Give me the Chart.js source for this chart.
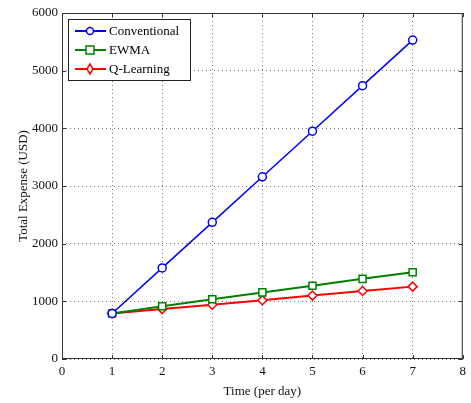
<!DOCTYPE html>
<html>
<head>
<meta charset="utf-8">
<script src="https://cdn.jsdelivr.net/npm/chart.js@4"></script>
<style>
  html, body { margin: 0; padding: 0; background: #fff; }
  #wrap { width: 471px; height: 403px; position: relative; }
</style>
</head>
<body>
<div id="wrap"><canvas id="chart"></canvas></div>
<script>
// data
const days = [1, 2, 3, 4, 5, 6, 7];
const conventional = [790, 1580, 2370, 3160, 3950, 4740, 5530];
const ewma = [790, 915, 1035, 1155, 1270, 1390, 1505];
const qLearning = [790, 865, 940, 1020, 1100, 1180, 1255];
const xTicks = [0, 1, 2, 3, 4, 5, 6, 7, 8];
const yTicks = [0, 1000, 2000, 3000, 4000, 5000, 6000];

const FONT = 'Liberation Serif';

function pts(arr) {
    return days.map((d, i) => ({ x: d, y: arr[i] }));
}

// box round the axes, inward tick marks and a legend inside the plot
const matlabBox = {
    id: 'matlabBox',
    afterDraw(chart) {
        const { ctx, chartArea: a, scales } = chart;
        ctx.save();
        ctx.strokeStyle = '#333';
        ctx.lineWidth = 1;
        ctx.strokeRect(a.left + 0.5, a.top + 0.5, a.right - a.left - 1, a.bottom - a.top - 1);
        ctx.beginPath();
        xTicks.forEach(v => {
            const x = Math.round(scales.x.getPixelForValue(v)) + 0.5;
            ctx.moveTo(x, a.bottom); ctx.lineTo(x, a.bottom - 4);
            ctx.moveTo(x, a.top); ctx.lineTo(x, a.top + 4);
        });
        yTicks.forEach(v => {
            const y = Math.round(scales.y.getPixelForValue(v)) + 0.5;
            ctx.moveTo(a.left, y); ctx.lineTo(a.left + 4, y);
            ctx.moveTo(a.right, y); ctx.lineTo(a.right - 4, y);
        });
        ctx.stroke();

        // legend
        const lx = a.left + 6, ly = a.top + 6, lw = 122, lh = 61;
        ctx.fillStyle = '#fff';
        ctx.fillRect(lx, ly, lw, lh);
        ctx.strokeStyle = '#222';
        ctx.strokeRect(lx + 0.5, ly + 0.5, lw, lh);
        ctx.font = '13px "' + FONT + '"';
        ctx.textBaseline = 'middle';
        chart.data.datasets.forEach((ds, i) => {
            const y = ly + 12 + i * 19;
            ctx.strokeStyle = ds.borderColor;
            ctx.lineWidth = 2;
            ctx.beginPath();
            ctx.moveTo(lx + 7, y); ctx.lineTo(lx + 38, y);
            ctx.stroke();
            ctx.lineWidth = 1.5;
            ctx.beginPath();
            const cx = lx + 22;
            if (ds.pointStyle === 'circle') {
                ctx.arc(cx, y, 3.5, 0, Math.PI * 2);
            } else if (ds.pointStyle === 'rect') {
                ctx.rect(cx - 4, y - 4, 8, 8);
            } else {
                ctx.moveTo(cx, y - 5); ctx.lineTo(cx + 3, y);
                ctx.lineTo(cx, y + 5); ctx.lineTo(cx - 3, y); ctx.closePath();
            }
            ctx.fillStyle = '#fff';
            ctx.fill();
            ctx.stroke();
            ctx.fillStyle = '#000';
            ctx.fillText(ds.label, lx + 41, y + 1);
        });
        ctx.restore();
    }
};

new Chart(document.getElementById('chart'), {
    type: 'line',
    data: {
        datasets: [
            {
                label: 'Conventional',
                data: pts(conventional),
                borderColor: '#0000ff',
                backgroundColor: '#fff',
                pointStyle: 'circle',
                pointRadius: 4,
                pointBorderWidth: 1.5,
                borderWidth: 1.5
            },
            {
                label: 'EWMA',
                data: pts(ewma),
                borderColor: '#008000',
                backgroundColor: '#fff',
                pointStyle: 'rect',
                pointRadius: 5,
                pointBorderWidth: 1.5,
                borderWidth: 2
            },
            {
                label: 'Q-Learning',
                data: pts(qLearning),
                borderColor: '#ff0000',
                backgroundColor: '#fff',
                pointStyle: 'rectRot',
                pointRadius: 4.5,
                pointBorderWidth: 1.5,
                borderWidth: 2
            }
        ]
    },
    options: {
        responsive: true,
        maintainAspectRatio: false,
        animation: false,
        layout: { padding: { top: 13, right: 8, left: 12, bottom: 0 } },
        plugins: {
            legend: { display: false },
            tooltip: { enabled: false }
        },
        scales: {
            x: {
                type: 'linear',
                min: 0,
                max: 8,
                afterBuildTicks: s => { s.ticks = xTicks.map(v => ({ value: v })); },
                afterFit: s => { s.height = 44; },
                border: { display: false, dash: [1, 3] },
                grid: {
                    color: '#777',
                    drawTicks: false
                },
                ticks: { color: '#111', padding: 5, font: { family: FONT, size: 13 }, callback: v => String(v) },
                title: {
                    display: true,
                    text: 'Time (per day)',
                    color: '#111',
                    padding: { top: 3 },
                    font: { family: FONT, size: 13 }
                }
            },
            y: {
                min: 0,
                max: 6000,
                afterBuildTicks: s => { s.ticks = yTicks.map(v => ({ value: v })); },
                afterFit: s => { s.width = 50; },
                border: { display: false, dash: [1, 3] },
                grid: {
                    color: '#777',
                    drawTicks: false
                },
                ticks: { color: '#111', padding: 4, font: { family: FONT, size: 13 }, callback: v => String(v) },
                title: {
                    display: true,
                    text: 'Total Expense (USD)',
                    color: '#111',
                    padding: { bottom: 2 },
                    font: { family: FONT, size: 13 }
                }
            }
        }
    },
    plugins: [matlabBox]
});
</script>
</body>
</html>
